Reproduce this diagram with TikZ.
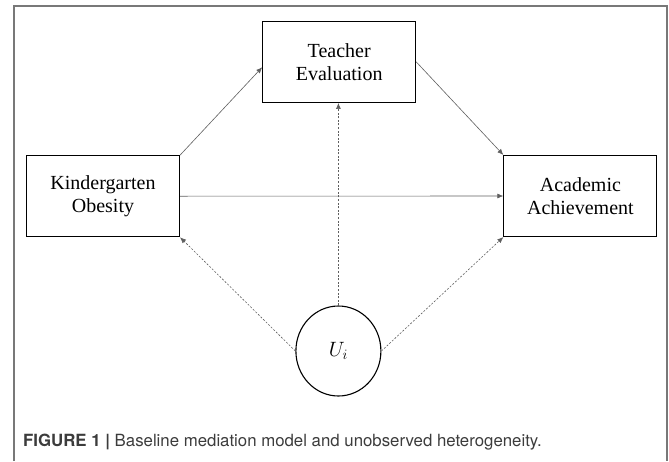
\documentclass[tikz,border=0pt]{standalone}
\usepackage{fontspec}
\setmainfont{Liberation Serif}
\newfontfamily\capfont{TeX Gyre Heros}
\usetikzlibrary{arrows,arrows.meta}
\usetikzlibrary{positioning, shapes}
\definecolor{linegray}{RGB}{95,95,95}
\definecolor{framegray}{RGB}{120,120,120}
\definecolor{capgray}{RGB}{60,60,60}
\tikzset{
    varbox/.style={draw, line width=1.1pt, rectangle, minimum width=153pt, minimum height=81pt,
        align=center, font=\fontsize{20}{23.3}\selectfont, inner sep=0pt},
    latent/.style={draw, line width=1.1pt, ellipse, minimum width=85pt, minimum height=90pt,
        inner sep=0pt, font=\fontsize{22}{26}\selectfont},
    path/.style={draw=linegray, line width=0.6pt, -{Latex[length=6pt,width=5pt]}},
    hidden/.style={path, dash pattern=on 2pt off 1.6pt}
}

\begin{document}
\begin{tikzpicture}[x=1pt, y=-1pt]
    \useasboundingbox (0,0) rectangle (669,461);
    \draw[framegray, line width=1.2pt] (14,461) -- (14,6) -- (667,6) -- (667,461);
    % variables
    \node[varbox] (teacher) at (339.2, 61.9) {Teacher\\Evaluation};
    \node[varbox] (kinder) at (103, 196.2) {Kindergarten\\Obesity};
    \node[varbox] (academic) at (580.4, 196) {Academic\\Achievement};
    \node[latent] (uvar) at (338.4, 351) {$U_i$};
    % paths
    \draw[path] (kinder.north east) -- (teacher.184);
    \draw[path] (teacher.east) -- (academic.north west);
    \draw[path] (kinder.east) -- (academic.west);
    \draw[hidden] (uvar.north) -- (uvar.north |- teacher.south);
    \draw[hidden] (uvar.west) -- (kinder.south east);
    \draw[hidden] (uvar.east) -- (academic.south west);
    % caption
    \node[anchor=base west, inner sep=0pt, font=\capfont\fontsize{16.8}{20}\selectfont, text=capgray] (caption) at (23, 446)
        {\textbf{FIGURE 1 |} Baseline mediation model and unobserved heterogeneity.};
\end{tikzpicture}
\end{document}
